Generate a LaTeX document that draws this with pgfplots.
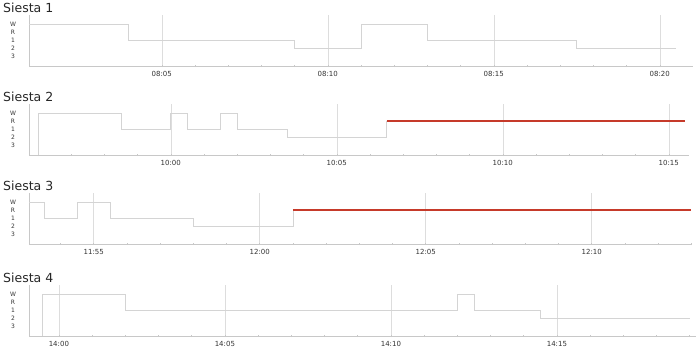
\documentclass[border=0pt]{standalone}
\usepackage{pgfplots}
\pgfplotsset{compat=1.18}
\usepackage{fontspec}
\setmainfont{DejaVu Sans}
\definecolor{stepgray}{HTML}{D4D4D4}
\definecolor{gridgray}{HTML}{DDDDDD}
\definecolor{axgray}{HTML}{C8C8C8}
\definecolor{redline}{HTML}{C63A2A}
\definecolor{ticktext}{HTML}{333333}
\pgfplotsset{
  hypno/.style={
    x=33.2pt, y=8pt,
    ymin=-1.25, ymax=5.1,
    axis lines=left,
    axis line style={axgray, line width=0.6pt, -},
    ytick={0,1,2,3,4},
    yticklabels={3,2,1,R,W},
    major y tick style={draw=none},
    yticklabel style={font=\fontsize{6}{6.5}\selectfont, text=ticktext, anchor=center, xshift=-15pt},
    xmajorgrids,
    major grid style={gridgray, line width=0.5pt},
    minor x tick num=4,
    major tick length=2pt, minor tick length=2pt,
    tick style={axgray, line width=0.5pt},
    xtick align=center,
    xticklabel style={font=\fontsize{7}{8}\selectfont, text=ticktext, yshift=-1pt},
    every axis title/.style={at={(0,1)}, anchor=west, xshift=-26pt, yshift=7.5pt, font=\fontsize{12.5}{13}\selectfont, text=black!85, inner sep=0pt},
    clip=false,
  },
  gline/.style={const plot, stepgray, line width=0.7pt, mark=none},
  rline/.style={redline, line width=2.2pt, mark=none},
}
\begin{document}
\begin{tikzpicture}
\useasboundingbox (0,0) rectangle (699pt,-351pt);
% Siesta 1 (minutes after 08:00)
\begin{axis}[hypno, at={(29pt,-66pt)}, anchor=south west,
  xmin=1, xmax=21,
  xtick={5,10,15,20}, xticklabels={08:05,08:10,08:15,08:20},
  title={Siesta 1}]
\addplot[gline] coordinates {(1,4) (4,2) (9,1) (11,4) (13,2) (17.5,1) (20.5,1)};
\end{axis}
% Siesta 2 (minutes after 09:00)
\begin{axis}[hypno, at={(29pt,-155pt)}, anchor=south west,
  xmin=55.73, xmax=75.6,
  xtick={60,65,70,75}, xticklabels={10:00,10:05,10:10,10:15},
  minor xtick={56,57,58,59,61,62,63,64,66,67,68,69,71,72,73,74},
  minor x tick num=0,
  title={Siesta 2}]
\addplot[gline] coordinates {(56,-1.25) (56,4) (58.5,2) (60,4) (60.5,2) (61.5,4) (62,2) (63.5,1) (66.5,1) (66.5,3)};
\addplot[rline] coordinates {(66.5,3) (75.5,3)};
\end{axis}
% Siesta 3 (minutes after 11:00)
\begin{axis}[hypno, at={(29pt,-244pt)}, anchor=south west,
  xmin=53.05, xmax=73,
  xtick={55,60,65,70}, xticklabels={11:55,12:00,12:05,12:10},
  minor xtick={54,56,57,58,59,61,62,63,64,66,67,68,69,71,72,73},
  minor x tick num=0,
  title={Siesta 3}]
\addplot[gline] coordinates {(53.05,4) (53.5,2) (54.5,4) (55.5,2) (58,1) (61,1) (61,3)};
\addplot[rline] coordinates {(61,3) (73,3)};
\end{axis}
% Siesta 4 (minutes after 13:00)
\begin{axis}[hypno, at={(29pt,-336pt)}, anchor=south west,
  xmin=59.1, xmax=79.2,
  xtick={60,65,70,75}, xticklabels={14:00,14:05,14:10,14:15},
  minor xtick={61,62,63,64,66,67,68,69,71,72,73,74,76,77,78,79},
  minor x tick num=0,
  title={Siesta 4}]
\addplot[gline] coordinates {(59.5,-1.25) (59.5,4) (62,2) (72,4) (72.5,2) (74.5,1) (79,1)};
\end{axis}
\end{tikzpicture}
\end{document}
